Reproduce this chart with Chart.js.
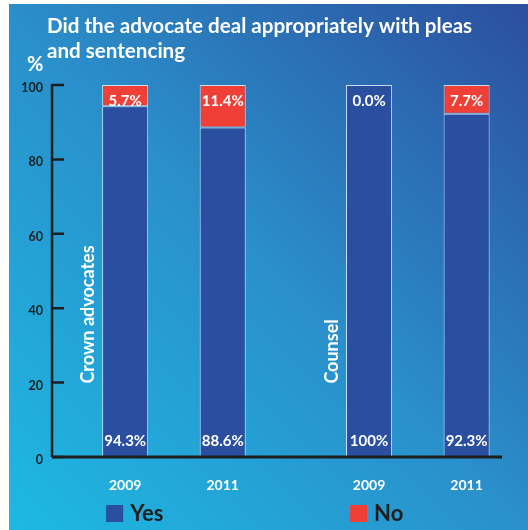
<!DOCTYPE html>
<html>
<head>
<meta charset="utf-8">
<script src="https://cdn.jsdelivr.net/npm/chart.js@4"></script>
<style>
  html, body { margin: 0; padding: 0; background: #fff; }
  #wrap { width: 528px; height: 530px; }
</style>
</head>
<body>
<div id="wrap"><canvas id="pleaChart" width="528" height="530"></canvas></div>
<script>
// Slots along the x axis (blank slots are spacing between groups)
const slotLabels = ['', '2009', '', '2011', '', '', '2009', '', '2011'];
const yesValues  = [null, 94.3, null, 88.6, null, null, 100, null, 92.3];
const noValues   = [null, 5.7, null, 11.4, null, null, 0.0, null, 7.7];
const groupLabels = ['Crown advocates', 'Counsel'];
const groupStartSlot = [1, 6];
const yTicks = [0, 20, 40, 60, 80, 100];
const titleLines = ['Did the advocate deal appropriately with pleas', 'and sentencing'];

const BLUE = '#2a4fa1';
const RED = '#f03f37';
const FONT = 'Lato, "Open Sans", sans-serif';

function fmt(v) {
  return v >= 100 ? '100%' : v.toFixed(1) + '%';
}

const decor = {
  id: 'decor',
  beforeDraw(chart) {
    const { ctx, width, height } = chart;
    ctx.save();
    const g = ctx.createLinearGradient(9, height, width, 4);
    g.addColorStop(0, '#1db9e3');
    g.addColorStop(0.5, '#2a8fca');
    g.addColorStop(1, '#2c4e9e');
    ctx.fillStyle = g;
    ctx.fillRect(9, 4, width - 9, height - 4);
    ctx.restore();
  },
  afterDatasetsDraw(chart) {
    const { ctx, chartArea } = chart;
    const y = chart.scales.y;
    const left = chartArea.left;
    const bottom = y.getPixelForValue(0);
    const top = y.getPixelForValue(100);
    ctx.save();

    // axes with inward tick marks
    ctx.strokeStyle = '#1e1e1e';
    ctx.lineWidth = 2.5;
    ctx.beginPath();
    ctx.moveTo(left, top - 1);
    ctx.lineTo(left, bottom);
    yTicks.forEach(v => {
      const py = y.getPixelForValue(v);
      ctx.moveTo(left, py);
      ctx.lineTo(left + 12, py);
    });
    ctx.stroke();
    ctx.lineWidth = 3;
    ctx.beginPath();
    ctx.moveTo(left, bottom);
    ctx.lineTo(chartArea.right + 11, bottom);
    ctx.stroke();

    // value labels
    ctx.fillStyle = '#fff';
    ctx.font = 'bold 15px ' + FONT;
    ctx.textAlign = 'center';
    ctx.textBaseline = 'middle';
    chart.getDatasetMeta(0).data.forEach((el, i) => {
      if (yesValues[i] == null) return;
      ctx.fillText(fmt(yesValues[i]), el.x, el.base - 16);
    });
    chart.getDatasetMeta(1).data.forEach((el, i) => {
      if (noValues[i] == null) return;
      ctx.fillText(fmt(noValues[i]), el.x, el.y + 16);
    });

    // group labels, rotated
    ctx.font = 'bold 18px ' + FONT;
    ctx.textAlign = 'left';
    const yesMeta = chart.getDatasetMeta(0);
    groupLabels.forEach((txt, gi) => {
      const el = yesMeta.data[groupStartSlot[gi]];
      ctx.save();
      ctx.translate(el.x - 37, y.getPixelForValue(20) + 1);
      ctx.rotate(-Math.PI / 2);
      ctx.fillText(txt, 0, 0);
      ctx.restore();
    });
    ctx.restore();
  },
  afterDraw(chart) {
    const { ctx } = chart;
    ctx.save();
    ctx.fillStyle = '#fff';
    ctx.textBaseline = 'middle';
    ctx.textAlign = 'left';
    ctx.font = 'bold 20.6px ' + FONT;
    titleLines.forEach((line, i) => ctx.fillText(line, 47, 26 + i * 25));
    ctx.font = 'bold 20px ' + FONT;
    ctx.fillText('%', 27, 65);

    // legend under the first bar of each group
    const yesMeta = chart.getDatasetMeta(0);
    ctx.font = 'bold 22px ' + FONT;
    chart.data.datasets.forEach((ds, gi) => {
      const el = yesMeta.data[groupStartSlot[gi]];
      const sx = el.x - el.width / 2 + 4;
      ctx.fillStyle = ds.backgroundColor;
      ctx.fillRect(sx, 505, 17, 17);
      ctx.fillStyle = '#1e1e1e';
      ctx.fillText(ds.label, sx + 24, 514);
    });
    ctx.restore();
  }
};

new Chart(document.getElementById('pleaChart'), {
  type: 'bar',
  data: {
    labels: slotLabels,
    datasets: [
      { label: 'Yes', data: yesValues, backgroundColor: BLUE },
      { label: 'No', data: noValues, backgroundColor: RED }
    ]
  },
  options: {
    responsive: false,
    animation: false,
    layout: { padding: { top: 85, right: 37, left: 0, bottom: 0 } },
    datasets: {
      bar: {
        borderColor: 'rgba(255,255,255,0.75)',
        borderWidth: 1,
        borderSkipped: false,
        categoryPercentage: 1,
        barPercentage: 0.944
      }
    },
    plugins: { legend: { display: false }, tooltip: { enabled: false } },
    scales: {
      x: {
        stacked: true,
        grid: { display: false },
        border: { display: false },
        ticks: { color: '#fff', font: { family: FONT, size: 14, weight: 'bold' }, padding: 12, autoSkip: false, maxRotation: 0 },
        afterFit: s => { s.height = 73; }
      },
      y: {
        stacked: true,
        min: 0, max: 100,
        grid: { display: false, drawTicks: false },
        border: { display: false },
        ticks: { stepSize: 20, color: '#222', font: { family: FONT, size: 12.5, weight: 'bold' }, padding: 9, labelOffset: 3 },
        afterFit: s => { s.width = 52; }
      }
    }
  },
  plugins: [decor]
});
</script>
</body>
</html>
